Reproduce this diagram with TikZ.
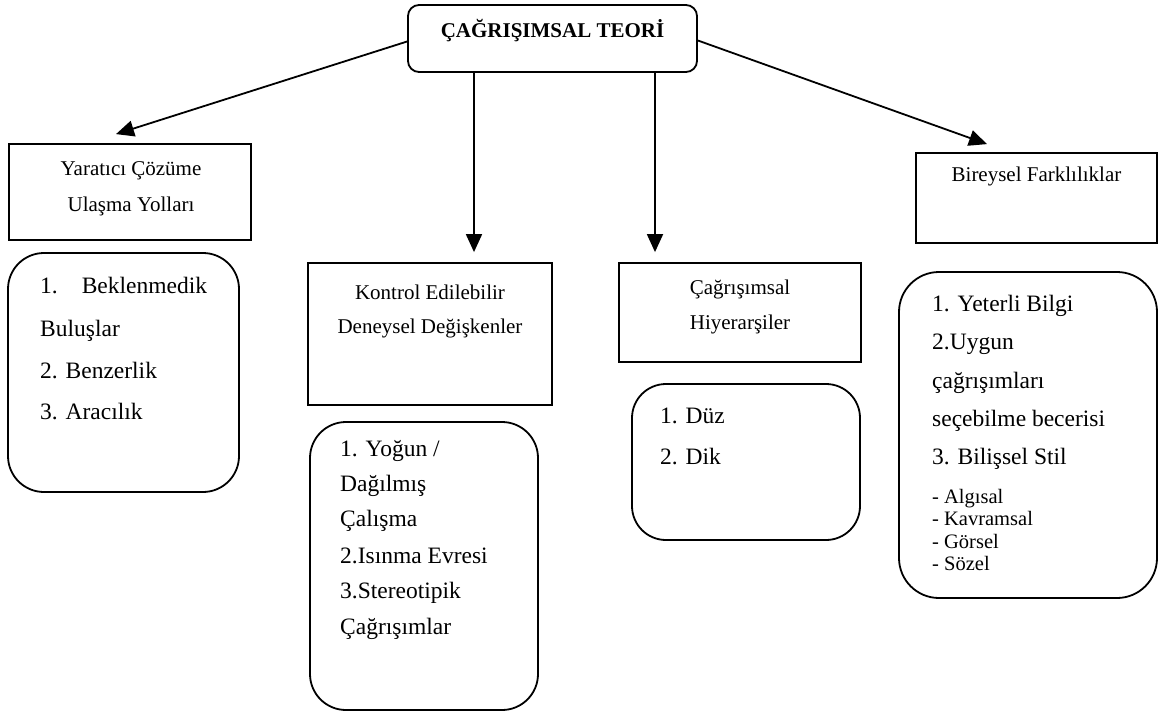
\documentclass[tikz,border=0pt]{standalone}
\usepackage{fontspec}
\setmainfont{Liberation Serif}
\usetikzlibrary{arrows.meta}
\tikzset{
  box/.style={draw, line width=1.8pt, inner sep=0pt},
  rbox/.style={draw, line width=1.8pt, inner sep=0pt, rounded corners=#1},
  arr/.style={line width=1.8pt, -{Triangle[length=18pt,width=16pt]}},
  lbl/.style={inner sep=0pt, anchor=base, font=\fontsize{21}{25}\selectfont},
  itm/.style={inner sep=0pt, anchor=base west, font=\fontsize{23.5}{28}\selectfont},
  sml/.style={inner sep=0pt, anchor=base west, font=\fontsize{20.5}{24}\selectfont},
}
\begin{document}
\begin{tikzpicture}[x=1pt,y=-1pt]
\useasboundingbox (0,0) rectangle (1170,715);
% boxes
\node[rbox=11pt, minimum width=289pt, minimum height=67pt] (top) at (552.5,38.5) {};
\node[box, minimum width=242pt, minimum height=96pt] (yar) at (130,192) {};
\node[rbox=36pt, minimum width=231pt, minimum height=239pt] (yarl) at (123.5,372.5) {};
\node[box, minimum width=244pt, minimum height=142pt] (kon) at (430,334) {};
\node[rbox=36pt, minimum width=228pt, minimum height=288pt] (konl) at (424,566) {};
\node[box, minimum width=242pt, minimum height=99pt] (hie) at (740,312.5) {};
\node[rbox=34pt, minimum width=228pt, minimum height=156pt] (hiel) at (746,462) {};
\node[box, minimum width=241pt, minimum height=90pt] (bir) at (1036.5,198) {};
\node[rbox=40pt, minimum width=258pt, minimum height=326pt] (birl) at (1028,435) {};
% texts
\node[lbl, font=\fontsize{21}{25}\selectfont\bfseries] (tt) at (552.5,37) {ÇAĞRIŞIMSAL TEORİ};
\node[lbl] (y1) at (131,175) {Yaratıcı Çözüme};
\node[lbl] (y2) at (131,211) {Ulaşma Yolları};
\node[itm] (a1) at (40,293) {1.\hspace*{24pt}Beklenmedik};
\node[itm] (a2) at (40,336) {Buluşlar};
\node[itm] (a3) at (40,378) {2. Benzerlik};
\node[itm] (a4) at (40,419) {3. Aracılık};
\node[lbl] (k1) at (430,299) {Kontrol Edilebilir};
\node[lbl] (k2) at (430,333) {Deneysel Değişkenler};
\node[itm] (b1) at (340,456) {1. Yoğun /};
\node[itm] (b2) at (340,491) {Dağılmış};
\node[itm] (b3) at (340,526) {Çalışma};
\node[itm] (b4) at (340,563) {2.Isınma Evresi};
\node[itm] (b5) at (340,598) {3.Stereotipik};
\node[itm] (b6) at (340,634) {Çağrışımlar};
\node[lbl] (h1) at (740,294) {Çağrışımsal};
\node[lbl] (h2) at (740,329) {Hiyerarşiler};
\node[itm] (c1) at (660,423) {1. Düz};
\node[itm] (c2) at (660,464) {2. Dik};
\node[lbl] (f1) at (1036.5,181) {Bireysel Farklılıklar};
\node[itm] (d1) at (932,311) {1. Yeterli Bilgi};
\node[itm] (d2) at (932,349) {2.Uygun};
\node[itm] (d3) at (932,388) {çağrışımları};
\node[itm] (d4) at (932,426) {seçebilme becerisi};
\node[itm] (d5) at (932,464) {3. Bilişsel Stil};
\node[sml] (e1) at (932,503) {- Algısal};
\node[sml] (e2) at (932,525) {- Kavramsal};
\node[sml] (e3) at (932,548) {- Görsel};
\node[sml] (e4) at (932,570) {- Sözel};
% connectors
\draw[arr] ([yshift=-3pt]top.west) -- ([xshift=-14pt,yshift=9pt]yar.north);
\draw[arr] ([yshift=-2pt]top.east) -- ([xshift=-49.5pt,yshift=8pt]bir.north);
\draw[arr] ([xshift=-78.5pt]top.south) -- ([xshift=44pt,yshift=10pt]kon.north);
\draw[arr] ([xshift=102.5pt]top.south) -- ([xshift=-85pt,yshift=10pt]hie.north);
\end{tikzpicture}
\end{document}
